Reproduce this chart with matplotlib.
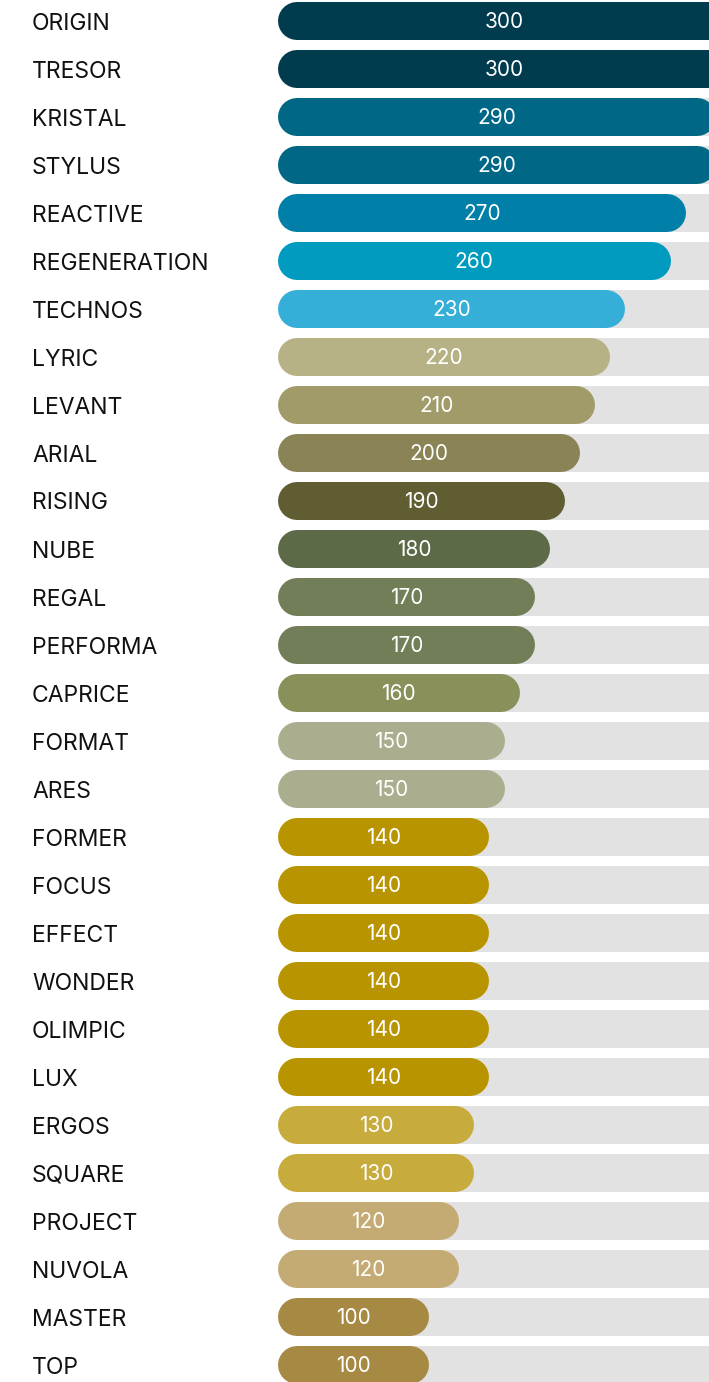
import matplotlib.pyplot as plt

# data
names = ["ORIGIN", "TRESOR", "KRISTAL", "STYLUS", "REACTIVE", "REGENERATION", "TECHNOS",
         "LYRIC", "LEVANT", "ARIAL", "RISING", "NUBE", "REGAL", "PERFORMA", "CAPRICE",
         "FORMAT", "ARES", "FORMER", "FOCUS", "EFFECT", "WONDER", "OLIMPIC", "LUX",
         "ERGOS", "SQUARE", "PROJECT", "NUVOLA", "MASTER", "TOP"]
values = [300, 300, 290, 290, 270, 260, 230,
          220, 210, 200, 190, 180, 170, 170, 160,
          150, 150, 140, 140, 140, 140, 140, 140,
          130, 130, 120, 120, 100, 100]
colors = ["#003c4e", "#003c4e", "#006786", "#006786", "#0080a8", "#009bbe", "#36afd8",
          "#b7b286", "#a19b6a", "#8a8355", "#615d33", "#5c6a47", "#727e58", "#727e58", "#89905a",
          "#abae8e", "#abae8e", "#b89500", "#b89500", "#b89500", "#b89500", "#b89500", "#b89500",
          "#c8ab3d", "#c8ab3d", "#c4ab74", "#c4ab74", "#a68a43", "#a68a43"]

W, H, DPI = 709, 1382, 100
px_per_unit = 1.51
x0_px = 278
pitch = 48
bar_px = 38

fig = plt.figure(figsize=(W / DPI, H / DPI), dpi=DPI)
ax = fig.add_axes([x0_px / W, 0, 1 - x0_px / W, 1])
xmax = (W - x0_px) / px_per_unit
ax.set_xlim(0, xmax)
ax.set_ylim((H - 21) / pitch, -21 / pitch)
ax.axis("off")

r = bar_px / 2 / px_per_unit        # cap radius in data units
lw = bar_px * 72 / DPI              # line width in points
h = bar_px / pitch                  # bar height in y units

for i, (n, v, c) in enumerate(zip(names, values, colors)):
    # grey track
    ax.barh(i, 400, left=r, height=h, color="#e2e2e2", zorder=1)
    # rounded bar
    ax.plot([r, v - r], [i, i], color=c, lw=lw, solid_capstyle="round", zorder=2)
    ax.text(v / 2, i + 1.0 / pitch, str(v), ha="center", va="center", color="white",
            fontsize=15, family="Inter", zorder=3)
    fig.text(32 / W, 1 - (23.5 + pitch * i) / H, n, ha="left", va="center",
             fontsize=16.5, family="Inter", color="#111111")

fig.savefig("out.png", dpi=DPI)
